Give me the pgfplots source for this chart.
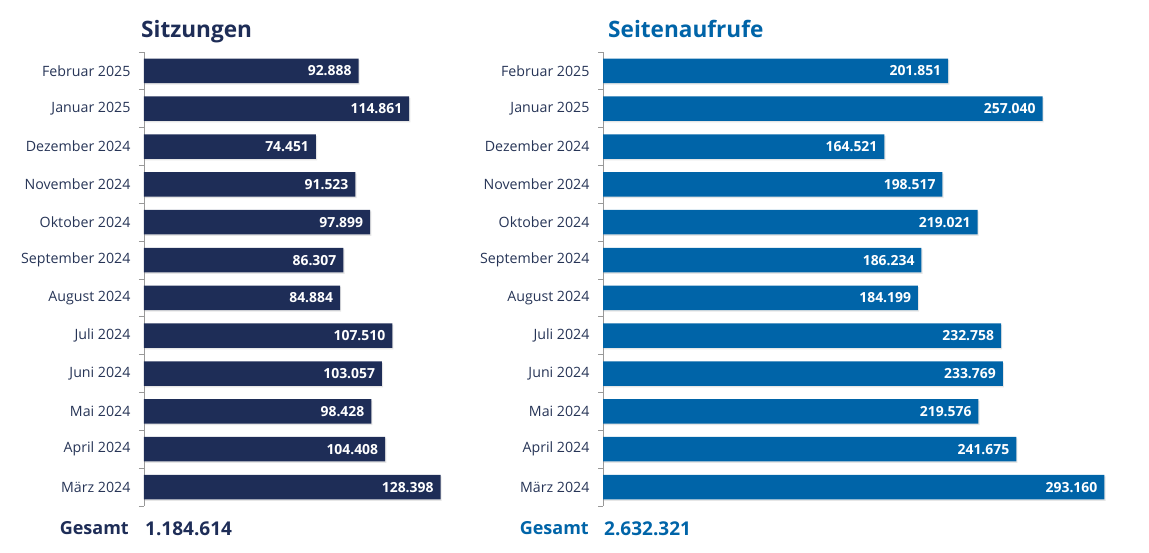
\documentclass[border=0pt]{standalone}
\usepackage{fontspec}
\setmainfont{Open Sans}
\usepackage{pgfplots}
\usepackage{pgfplotstable}
\pgfplotsset{compat=1.18}
\usetikzlibrary{shadows}
\definecolor{navy}{HTML}{1E2D57}
\definecolor{blu}{HTML}{0064A8}
\definecolor{lbl}{HTML}{263456}

\pgfplotstableread{
i v lab
0 128398 128.398
1 104408 104.408
2 98428 98.428
3 103057 103.057
4 107510 107.510
5 84884 84.884
6 86307 86.307
7 97899 97.899
8 91523 91.523
9 74451 74.451
10 114861 114.861
11 92888 92.888
}\sitz

\pgfplotstableread{
i v lab
0 293160 293.160
1 241675 241.675
2 219576 219.576
3 233769 233.769
4 232758 232.758
5 184199 184.199
6 186234 186.234
7 219021 219.021
8 198517 198.517
9 164521 164.521
10 257040 257.040
11 201851 201.851
}\seiten

\pgfplotsset{mybar/.style={
  scale only axis, height=454pt, xmin=0, ymin=-0.5, ymax=11.5,
  anchor=south west,
  axis x line=none, axis y line*=left,
  y axis line style={-, draw=gray!80, line width=0.8pt},
  ytick={0,...,11},
  yticklabels={März 2024, April 2024, Mai 2024, Juni 2024, Juli 2024, August 2024, September 2024, Oktober 2024, November 2024, Dezember 2024, Januar 2025, Februar 2025},
  major tick length=0pt,
  minor ytick={-0.5,0.5,...,11.5}, minor tick length=5pt, tick align=outside,
  ytick pos=left,
  major tick style={draw=none},
  minor tick style={draw=gray!80, line width=0.8pt},
  yticklabel style={font=\fontsize{14.2}{16}\selectfont, text=lbl, xshift=-10pt},
  xbar, bar width=24.5pt,
  point meta=explicit symbolic,
  nodes near coords,
  nodes near coords align={anchor=east},
  every node near coord/.append style={font=\bfseries\fontsize{13.9}{16}\selectfont, text=white, anchor=east, xshift=-3.5pt},
  clip=false,
}}

\begin{document}
\begin{tikzpicture}
\useasboundingbox (0pt,0pt) rectangle (1149pt,553pt);

\begin{axis}[mybar, at={(144pt,47pt)}, width=323.3pt, xmax=140000]
\addplot[fill=navy, draw=none, drop shadow={shadow xshift=1.2pt, shadow yshift=-1.5pt, opacity=0.2}] table[x=v, y=i, meta=lab]{\sitz};
\end{axis}

\begin{axis}[mybar, at={(603pt,47pt)}, width=513pt, xmax=300000]
\addplot[fill=blu, draw=none, drop shadow={shadow xshift=1.2pt, shadow yshift=-1.5pt, opacity=0.2}] table[x=v, y=i, meta=lab]{\seiten};
\end{axis}

\node[anchor=base west, inner sep=0pt, font=\bfseries\fontsize{22.6}{26}\selectfont, text=navy] at (141pt,515.7pt) {Sitzungen};
\node[anchor=base west, inner sep=0pt, font=\bfseries\fontsize{22.6}{26}\selectfont, text=blu] at (608pt,515.7pt) {Seitenaufrufe};

\node[anchor=base east, inner sep=0pt, font=\bfseries\fontsize{18}{20}\selectfont, text=navy] at (129pt,18pt) {Gesamt};
\node[anchor=base west, inner sep=0pt, font=\bfseries\fontsize{19}{21}\selectfont, text=navy] at (145pt,17pt) {1.184.614};
\node[anchor=base east, inner sep=0pt, font=\bfseries\fontsize{18}{20}\selectfont, text=blu] at (589pt,18pt) {Gesamt};
\node[anchor=base west, inner sep=0pt, font=\bfseries\fontsize{19}{21}\selectfont, text=blu] at (604pt,17pt) {2.632.321};
\end{tikzpicture}
\end{document}
